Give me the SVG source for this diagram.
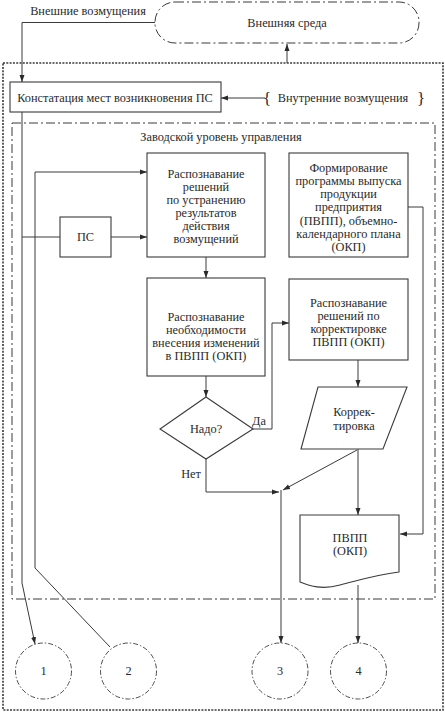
<svg xmlns="http://www.w3.org/2000/svg" width="445" height="712" viewBox="0 0 445 712" font-family="'Liberation Serif','Times New Roman',serif">
<style>
text{font-family:"Liberation Serif","Times New Roman",serif;font-size:12.3px;fill:#2a2a2a;text-anchor:middle}
.b{fill:#fff;stroke:#3a3a3a;stroke-width:1.1}
.c{fill:none;stroke:#3a3a3a;stroke-width:1}
.dd{fill:none;stroke:#3a3a3a;stroke-width:1;stroke-dasharray:9 3 2 3}
.dc{fill:none;stroke:#3a3a3a;stroke-width:0.9;stroke-dasharray:5 2 1.5 2}
.dot{fill:none;stroke:#3a3a3a;stroke-width:1.6;stroke-dasharray:2 1.3}
.br{font-size:17px}
</style>
<defs>
<marker id="a" markerWidth="8" markerHeight="6" refX="7" refY="3" orient="auto" markerUnits="userSpaceOnUse">
<path d="M0,0.5 L7,3 L0,5.5 Z" fill="#2a2a2a"/>
</marker>
</defs>
<rect class="dot" x="3" y="63" width="440" height="647"/>
<rect class="dd" x="12" y="123" width="423" height="476"/>
<text x="221" y="141">Заводской уровень управления</text>
<text x="88" y="15">Внешние возмущения</text>
<g id="connectors">
<polyline class="c" points="155,22.5 22,22.5 22,82" marker-end="url(#a)"/>
<line class="c" x1="287" y1="63" x2="287" y2="44" marker-end="url(#a)"/>
<line class="c" x1="265" y1="98" x2="221" y2="98" marker-end="url(#a)"/>
<polyline class="c" points="22,112 22,583 35,644" marker-end="url(#a)"/>
<line class="c" x1="22" y1="237" x2="60" y2="237"/>
<line class="c" x1="111" y1="237" x2="147" y2="237" marker-end="url(#a)"/>
<polyline class="c" points="110,647 35,568 35,172 147,172" marker-end="url(#a)"/>
<line class="c" x1="206" y1="257" x2="206" y2="278" marker-end="url(#a)"/>
<line class="c" x1="206" y1="376" x2="206" y2="397" marker-end="url(#a)"/>
<polyline class="c" points="253,429 272,429 272,323 289,323" marker-end="url(#a)"/>
<line class="c" x1="358" y1="360" x2="358" y2="387" marker-end="url(#a)"/>
<line class="c" x1="358" y1="449" x2="358" y2="515" marker-end="url(#a)"/>
<line class="c" x1="357" y1="450" x2="283" y2="490" marker-end="url(#a)"/>
<polyline class="c" points="206,459 206,492 279,492" marker-end="url(#a)"/>
<line class="c" x1="281" y1="490" x2="281" y2="643" marker-end="url(#a)"/>
<polyline class="c" points="408,207 423,207 423,534 400,534" marker-end="url(#a)"/>
<line class="c" x1="358" y1="585" x2="358" y2="643" marker-end="url(#a)"/>
</g>
<text x="259" y="425">Да</text>
<text x="191" y="478">Нет</text>
<g id="env">
<rect class="dd" x="155" y="2" width="264" height="41" rx="20"/>
<text x="287" y="27">Внешняя среда</text>
</g>
<g id="konst">
<rect class="b" x="10" y="82" width="211" height="30"/>
<text x="115" y="102">Констатация мест возникновения ПС</text>
</g>
<g id="internal">
<text class="br" x="267" y="104">{</text>
<text x="343" y="102">Внутренние возмущения</text>
<text class="br" x="421" y="104">}</text>
</g>
<g id="ps">
<rect class="b" x="60" y="217" width="51" height="40"/>
<text x="85.5" y="241">ПС</text>
</g>
<g id="box1">
<rect class="b" x="147" y="153" width="118" height="104"/>
<text x="206" y="178">Распознавание</text>
<text x="206" y="191">решений</text>
<text x="206" y="204">по устранению</text>
<text x="206" y="217">результатов</text>
<text x="206" y="230">действия</text>
<text x="206" y="243">возмущений</text>
</g>
<g id="form">
<rect class="b" x="289" y="153" width="119" height="104"/>
<text x="348.5" y="172">Формирование</text>
<text x="348.5" y="185">программы выпуска</text>
<text x="348.5" y="198">продукции</text>
<text x="348.5" y="211">предприятия</text>
<text x="348.5" y="225">(ПВПП), объемно-</text>
<text x="348.5" y="238">календарного плана</text>
<text x="348.5" y="251">(ОКП)</text>
</g>
<g id="box2">
<rect class="b" x="147" y="278" width="118" height="98"/>
<text x="206" y="321">Распознавание</text>
<text x="206" y="334">необходимости</text>
<text x="206" y="347">внесения изменений</text>
<text x="206" y="360">в ПВПП (ОКП)</text>
</g>
<g id="decision">
<polygon class="b" points="206,397 253,429 206,459 160,429"/>
<text x="206" y="433">Надо?</text>
</g>
<g id="box3">
<rect class="b" x="289" y="279" width="119" height="81"/>
<text x="348.5" y="307">Распознавание</text>
<text x="348.5" y="320">решений по</text>
<text x="348.5" y="333">корректировке</text>
<text x="348.5" y="346">ПВПП (ОКП)</text>
</g>
<g id="korr">
<polygon class="b" points="318,387 407,387 383,449 301,449"/>
<text x="354" y="416">Коррек-</text>
<text x="354" y="430">тировка</text>
</g>
<g id="doc">
<path class="b" d="M300,515 L399,515 L399,572 C375,575 360,580 340,585 C322,590 310,586 300,582 Z"/>
<text x="350" y="542">ПВПП</text>
<text x="350" y="555">(ОКП)</text>
</g>
<g id="c1"><circle class="dc" cx="43.5" cy="671" r="28"/><text x="43.5" y="675">1</text></g>
<g id="c2"><circle class="dc" cx="128.5" cy="671" r="28"/><text x="128.5" y="675">2</text></g>
<g id="c3"><circle class="dc" cx="280" cy="671" r="28"/><text x="280" y="675">3</text></g>
<g id="c4"><circle class="dc" cx="358.5" cy="671" r="28"/><text x="358.5" y="675">4</text></g>
</svg>
